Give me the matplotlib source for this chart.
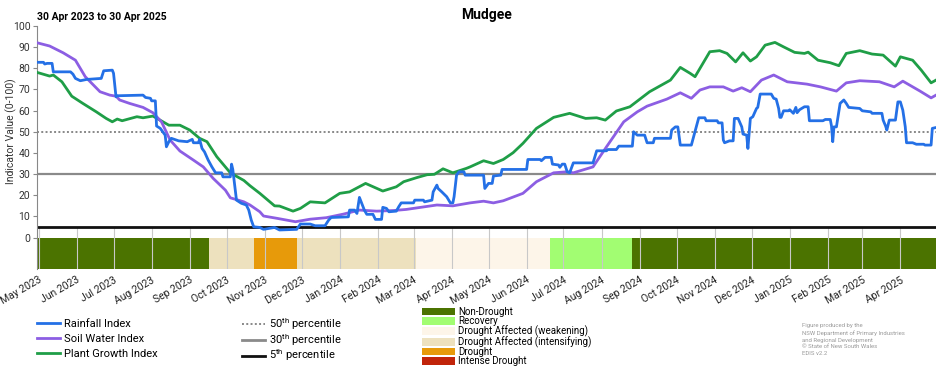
import matplotlib
matplotlib.use('Agg')
import matplotlib.pyplot as plt
import matplotlib.dates as mdates
from matplotlib.lines import Line2D
from matplotlib.patches import Patch
import pandas as pd

plt.rcParams['font.family'] = ['Roboto', 'DejaVu Sans']
plt.rcParams['mathtext.default'] = 'regular'

start = pd.Timestamp('2023-04-30')
end = pd.Timestamp('2025-04-30')

# x values are days since 30 Apr 2023
rain_day = [0, 5, 6, 8, 12, 13, 27, 29, 31, 35, 40, 52, 54, 61, 62, 64, 65, 86, 88, 92, 93, 96,
            97, 100, 102, 104, 105, 107, 109, 115, 122, 126, 127, 131, 132, 134, 136, 139, 142, 145,
            150, 151, 157, 158, 159, 162, 166, 170, 172, 174, 176, 181, 184, 193, 197, 211, 214, 222,
            226, 234, 237, 239, 253, 254, 258, 260, 262, 266, 268, 273, 275, 280, 281, 284, 286, 292,
            294, 296, 306, 307, 314, 315, 321, 322, 325, 326, 329, 333, 336, 338, 339, 341, 343, 347,
            348, 363, 364, 367, 370, 371, 377, 378, 398, 399, 409, 410, 413, 418, 419, 424, 425, 427,
            429, 431, 433, 436, 452, 455, 463, 464, 471, 473, 484, 485, 488, 494, 496, 501, 502, 515,
            516, 519, 521, 523, 532, 536, 538, 543, 544, 553, 554, 557, 558, 559, 563, 566, 567, 570,
            573, 574, 577, 578, 580, 582, 585, 586, 588, 597, 599, 601, 603, 604, 605, 607, 611, 612,
            615, 617, 618, 620, 624, 627, 628, 639, 641, 645, 646, 647, 648, 650, 653, 656, 658, 660,
            669, 671, 678, 679, 687, 688, 690, 691, 693, 698, 700, 702, 704, 706, 707, 712, 715, 721,
            722, 727, 728, 731]
rain_val = [82.8, 82.8, 82.0, 82.3, 82.3, 78.3, 78.3, 77.2, 75.2, 74.1, 74.7, 75.2, 78.8, 79.1, 77.6,
            66.5, 67.0, 67.3, 66.2, 65.8, 64.6, 64.6, 52.7, 51.6, 50.0, 48.4, 42.9, 45.3, 46.9, 45.7,
            45.3, 46.4, 44.8, 44.8, 46.4, 42.1, 40.5, 36.6, 33.4, 30.6, 30.6, 28.7, 28.7, 34.7, 32.2,
            17.7, 16.2, 15.4, 13.0, 8.3, 5.1, 4.8, 3.9, 4.8, 3.6, 3.9, 6.4, 6.4, 5.6, 5.6, 8.3, 9.5,
            9.8, 13.0, 13.0, 11.4, 19.0, 13.0, 11.0, 11.0, 8.6, 8.6, 14.3, 13.8, 12.2, 12.5, 14.6, 16.4,
            16.4, 17.7, 17.7, 16.9, 17.7, 21.6, 24.8, 23.2, 21.6, 19.3, 16.4, 16.4, 19.3, 29.5, 31.1,
            31.1, 29.5, 29.5, 23.2, 25.6, 25.6, 29.1, 29.5, 32.2, 32.2, 36.9, 36.9, 36.3, 37.9, 37.9,
            34.7, 34.3, 33.2, 34.7, 34.7, 31.1, 30.6, 35.3, 35.3, 41.0, 41.0, 41.6, 41.6, 43.2, 43.2,
            50.0, 48.4, 48.4, 44.8, 44.8, 46.9, 46.9, 50.8, 52.3, 52.3, 43.7, 43.7, 52.3, 56.6, 56.6,
            55.2, 55.2, 54.2, 54.2, 46.1, 44.8, 45.7, 45.7, 56.3, 56.3, 52.3, 48.9, 48.4, 42.1, 56.3,
            57.1, 61.0, 61.5, 67.8, 67.8, 65.8, 65.4, 61.0, 56.8, 56.8, 59.9, 59.9, 60.4, 58.7, 61.5,
            59.0, 60.4, 61.8, 61.8, 55.2, 55.2, 55.8, 55.8, 52.7, 45.3, 52.3, 52.3, 63.4, 65.0, 63.4,
            61.5, 61.0, 59.9, 59.4, 58.7, 58.7, 55.5, 52.7, 50.8, 55.5, 55.5, 64.1, 64.1, 60.2, 52.3,
            44.8, 44.8, 44.1, 44.1, 43.7, 43.7, 51.6, 52.0]

soil_day = [0, 10, 21, 31, 39, 51, 59, 64, 67, 75, 86, 94, 101, 108, 116, 127, 135, 143, 153, 157,
            168, 173, 181, 184, 195, 210, 222, 235, 249, 262, 276, 290, 300, 325, 338, 352, 363, 371,
            379, 395, 406, 420, 431, 436, 452, 463, 477, 488, 496, 512, 523, 532, 539, 547, 558, 566,
            573, 580, 589, 599, 610, 626, 637, 650, 658, 669, 685, 697, 704, 718, 727, 731]
soil_val = [92.0, 90.5, 87.3, 83.8, 76.0, 68.9, 67.3, 66.8, 65.0, 63.4, 61.5, 59.0, 54.7, 46.1, 40.9,
            36.6, 33.4, 28.0, 22.4, 18.8, 16.9, 15.4, 12.2, 10.2, 9.1, 7.5, 8.7, 9.4, 11.1, 13.0, 12.5,
            12.8, 13.3, 15.4, 15.0, 16.4, 17.2, 16.4, 17.4, 20.9, 26.4, 30.6, 31.1, 30.6, 33.4, 42.9,
            54.7, 59.4, 62.1, 65.4, 68.4, 65.8, 69.7, 71.2, 71.2, 69.2, 70.8, 68.9, 74.4, 76.8, 73.6,
            72.5, 71.2, 69.2, 73.1, 74.1, 73.6, 71.2, 73.9, 69.2, 66.0, 67.3]

plant_day = [0, 10, 13, 20, 28, 37, 48, 56, 61, 65, 69, 81, 86, 94, 98, 107, 116, 124, 132, 138, 146,
             157, 168, 173, 181, 193, 197, 208, 214, 222, 234, 246, 254, 267, 281, 292, 298, 309, 317,
             323, 330, 338, 349, 352, 363, 371, 379, 387, 395, 406, 420, 433, 446, 455, 462, 471, 482,
             498, 515, 523, 531, 535, 547, 555, 561, 568, 574, 580, 585, 592, 600, 607, 616, 624, 627,
             635, 645, 652, 658, 669, 679, 688, 698, 702, 712, 719, 727, 731]
plant_val = [78.0, 76.3, 76.8, 73.6, 66.8, 63.4, 59.4, 56.3, 54.7, 56.0, 55.2, 57.1, 56.6, 57.4, 56.1,
             53.1, 53.1, 50.8, 46.9, 45.3, 38.2, 30.6, 27.0, 24.5, 20.9, 15.0, 14.9, 12.5, 13.8, 16.9,
             16.4, 20.9, 21.6, 25.6, 22.0, 24.0, 26.4, 28.4, 29.7, 29.9, 32.5, 30.6, 32.7, 33.4, 36.3,
             35.0, 36.9, 40.1, 44.5, 51.6, 56.8, 58.7, 56.3, 56.6, 55.5, 59.8, 61.8, 68.9, 74.4, 80.4,
             77.6, 76.0, 87.8, 88.3, 87.0, 83.0, 87.3, 83.4, 85.4, 90.9, 92.2, 90.1, 87.5, 87.0, 87.6,
             83.8, 82.6, 81.2, 87.0, 88.3, 86.7, 86.2, 81.0, 85.4, 83.8, 79.1, 73.1, 74.4]

# drought status periods
status_from = ['2023-04-30', '2023-09-17', '2023-10-23', '2023-11-27', '2024-03-03', '2024-06-20',
               '2024-08-26']
status_to = ['2023-09-17', '2023-10-23', '2023-11-27', '2024-03-03', '2024-06-20', '2024-08-26',
             '2025-04-30']
status_cat = ['Non-Drought', 'Drought Affected (intensifying)', 'Drought',
              'Drought Affected (intensifying)', 'Drought Affected (weakening)', 'Recovery',
              'Non-Drought']

status_names = ['Non-Drought', 'Recovery', 'Drought Affected (weakening)',
                'Drought Affected (intensifying)', 'Drought', 'Intense Drought']
status_colors = ['#4b7300', '#a2fd72', '#fdf5e9', '#ede1be', '#e79a0a', '#c1240a']
color_of = dict(zip(status_names, status_colors))

blue = '#2470e6'
purple = '#8c5ee3'
green = '#1f9e47'

fig = plt.figure(figsize=(9.52, 3.70), dpi=100)
ax = fig.add_axes([0.0392, 0.272, 0.9440, 0.658])


def to_dates(days):
    return start + pd.to_timedelta(days, unit='D')


# status bar under the zero line
for a, b, c in zip(status_from, status_to, status_cat):
    a = mdates.date2num(pd.Timestamp(a))
    b = mdates.date2num(pd.Timestamp(b))
    ax.barh(-7.5, b - a, left=a, height=15, color=color_of[c], align='center', zorder=1)

months = pd.date_range('2023-05-01', '2025-04-01', freq='MS')
ax.vlines(months, -15, 5, color='#c8c8c8', lw=0.8, zorder=2)

# percentile lines
ax.axhline(50, color='#888888', lw=1.4, ls=(0, (1, 1.2)), zorder=2)
ax.axhline(30, color='#8a8a8a', lw=1.6, zorder=2)
ax.axhline(5, color='#111111', lw=2, zorder=2)

ax.plot(to_dates(plant_day), plant_val, color=green, lw=2, zorder=4)
ax.plot(to_dates(soil_day), soil_val, color=purple, lw=2, zorder=4)
ax.plot(to_dates(rain_day), rain_val, color=blue, lw=2, zorder=5)

ax.set_xlim(start, end)
ax.set_ylim(-15, 100)
ax.set_yticks(range(0, 101, 10))
ax.set_xticks(months)
ax.xaxis.set_major_formatter(mdates.DateFormatter('%b %Y'))
ax.tick_params(axis='x', length=0, pad=4, labelsize=7.5, colors='#222222')
ax.tick_params(axis='y', length=3, width=0.8, color='#888888', pad=2, labelsize=7.5, labelcolor='#333333')
for lab in ax.get_xticklabels():
    lab.set_rotation(30)
    lab.set_ha('right')
    lab.set_va('top')
    lab.set_rotation_mode('anchor')

for s in ['top', 'right', 'bottom']:
    ax.spines[s].set_visible(False)
ax.spines['left'].set_color('#888888')
ax.spines['left'].set_linewidth(0.8)

ax.set_ylabel('Indicator Value (0-100)', fontsize=7.5, color='#333333')
ax.yaxis.set_label_coords(-0.0225, 0.568)

fig.text(0.511, 1 - 15 / 370, 'Mudgee', ha='center', va='center', fontsize=10, fontweight='bold')
fig.text(37 / 952, 1 - 17 / 370, '30 Apr 2023 to 30 Apr 2025', ha='left', va='center',
         fontsize=7.5, fontweight='bold')

# legends
idx_handles = [Line2D([], [], color=blue, lw=2), Line2D([], [], color=purple, lw=2),
               Line2D([], [], color=green, lw=2)]
idx_labels = ['Rainfall Index', 'Soil Water Index', 'Plant Growth Index']
leg1 = fig.legend(idx_handles, idx_labels, loc='upper left', bbox_to_anchor=(37 / 952, 1 - 319 / 370),
                  frameon=False, fontsize=8, handlelength=2.1, handletextpad=0.3, labelspacing=0.45,
                  borderpad=0, borderaxespad=0)

pct_handles = [Line2D([], [], color='#888888', lw=1.4, ls=(0, (1, 1.2))),
               Line2D([], [], color='#8a8a8a', lw=2),
               Line2D([], [], color='#111111', lw=2)]
pct_labels = ['50$^{th}$ percentile', '30$^{th}$ percentile', '5$^{th}$ percentile']
leg2 = fig.legend(pct_handles, pct_labels, loc='upper left', bbox_to_anchor=(242 / 952, 1 - 316 / 370),
                  frameon=False, fontsize=8, handlelength=2.1, handletextpad=0.3, labelspacing=0.0,
                  borderpad=0, borderaxespad=0)

st_handles = [Patch(facecolor=c, edgecolor='none') for c in status_colors]
leg3 = fig.legend(st_handles, status_names, loc='upper left', bbox_to_anchor=(422 / 952, 1 - 307 / 370),
                  frameon=False, fontsize=7, handlelength=3.4, handleheight=0.82, handletextpad=0.3,
                  labelspacing=-0.08, borderpad=0, borderaxespad=0)

credit = ('Figure produced by the\nNSW Department of Primary Industries\nand Regional Development\n'
          '\u00a9 State of New South Wales\nEDIS v2.2')
fig.text(802 / 952, 1 - 323 / 370, credit, ha='left', va='top', fontsize=4.3, color='#9a9a9a',
         linespacing=1.45)

fig.savefig('out.png', dpi=100)
